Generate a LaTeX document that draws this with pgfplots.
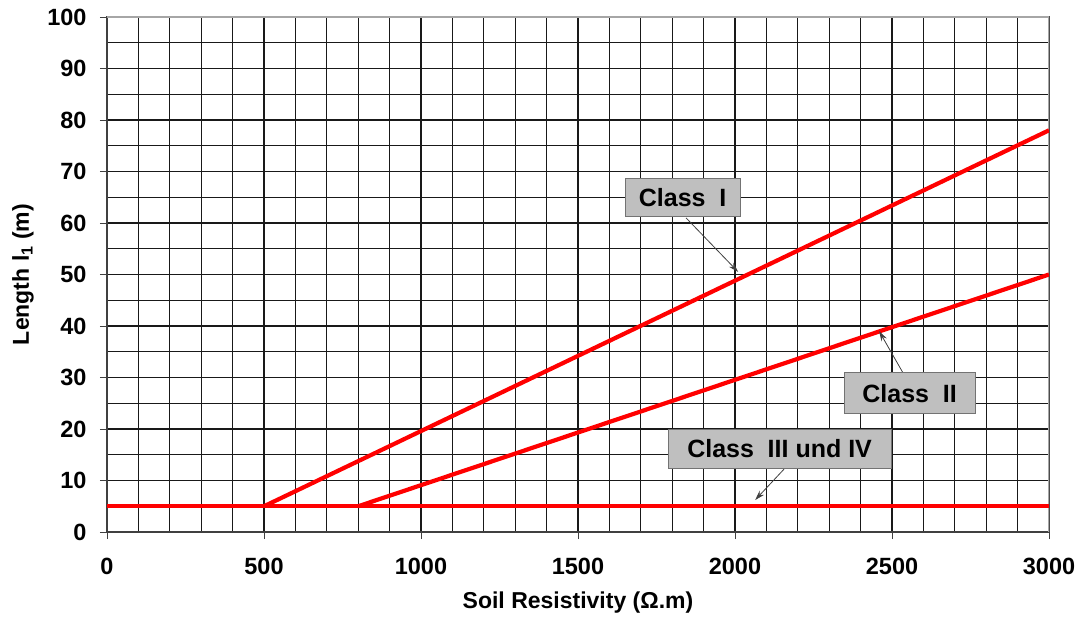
\documentclass[border=0pt]{standalone}
\usepackage{fontspec}
\setmainfont{Liberation Sans}
\usepackage{pgfplots}
\pgfplotsset{compat=1.18}
\usetikzlibrary{arrows.meta}

\begin{document}
\begin{tikzpicture}[x=1pt,y=1pt]
\path[use as bounding box] (-107,-87) rectangle (977,532);
\begin{axis}[
  at={(0,0)}, anchor=south west,
  width=942pt, height=515pt, scale only axis,
  xmin=0, xmax=3000, ymin=0, ymax=100,
  xtick={0,500,...,3000}, ytick={0,10,...,100},
  minor x tick num=4, minor y tick num=1,
  grid=both,
  major grid style={black!90, line width=1.25pt},
  minor grid style={black!90, line width=1.25pt},
  tick align=outside, major tick length=7pt, minor tick length=0pt,
  xtick pos=left, ytick pos=left,
  major tick style={black!75},
  axis line style={black!75, line width=1.4pt},
  /pgf/number format/assume math mode=true,
  /pgf/number format/1000 sep={},
  ticklabel style={font=\fontsize{23.5}{23.5}\selectfont\bfseries},
  xticklabel style={yshift=-16pt},
  yticklabel style={xshift=-10pt},
  xlabel={Soil Resistivity (Ω.m)},
  ylabel={Length l\textsubscript{1} (m)},
  label style={font=\fontsize{23}{23}\selectfont\bfseries},
  xlabel style={at={(axis description cs:0.5,0)}, anchor=base, yshift=-76pt},
  ylabel style={at={(axis description cs:0,0.5)}, anchor=base, yshift=78pt},
  clip=true,
]
% lighter frame on top and right
\draw[black!35, line width=1.4pt] (rel axis cs:0,1) -- (rel axis cs:1,1) -- (rel axis cs:1,0);

% Class III und IV
\addplot[red, line width=4.2pt] coordinates {(0,5) (3000,5)};
% Class II
\addplot[red, line width=4.2pt] coordinates {(800,5) (3000,50)};
% Class I
\addplot[red, line width=4.2pt] coordinates {(500,5) (3000,78)};

\tikzset{classbox/.style={fill=gray!50, draw=black!55, line width=1pt,
  minimum height=38pt, inner xsep=8pt,
  font=\fontsize{25}{25}\selectfont\bfseries}}
\tikzset{callout/.style={-{Stealth[length=10pt,width=6pt]}, black!75, line width=0.8pt}}

\draw[callout] (axis cs:1844,61) -- (axis cs:2010,50.5);
\draw[callout] (axis cs:2535,30.9) -- (axis cs:2459,39.0);
\draw[callout] (axis cs:2156,12.2) -- (axis cs:2064,6.2);

\node[classbox, minimum width=115pt] at (axis cs:1833,64.9) {Class\hspace{0.55em}I};
\node[classbox, minimum width=131pt, minimum height=41pt] at (axis cs:2556,26.9) {Class\hspace{0.55em}II};
\node[classbox, minimum width=223pt, minimum height=39pt] at (axis cs:2142,16.2) {Class\hspace{0.55em}III und IV};
\end{axis}
\end{tikzpicture}
\end{document}
